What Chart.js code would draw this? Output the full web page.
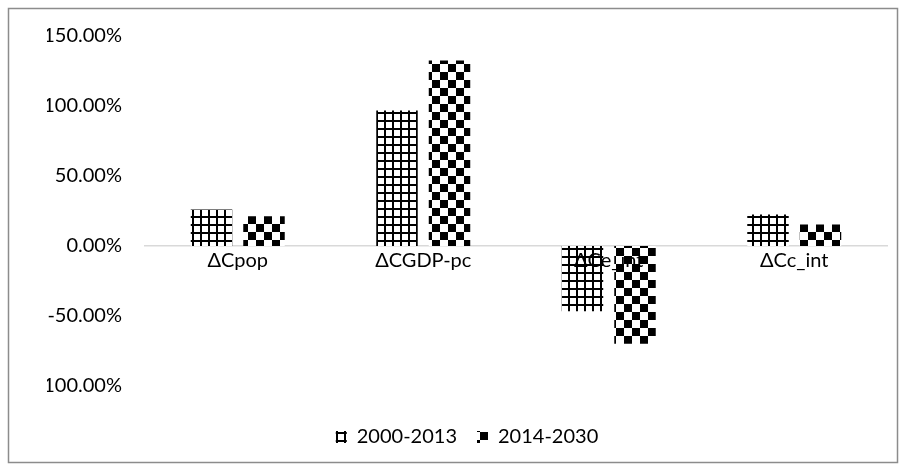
<!DOCTYPE html>
<html>
<head>
<meta charset="utf-8">
<script src="https://cdn.jsdelivr.net/npm/chart.js@4.4.1/dist/chart.umd.min.js"></script>
<style>
  html, body { margin: 0; padding: 0; background: #fff; }
  canvas { display: block; }
</style>
</head>
<body>
<canvas id="decompChart" width="906" height="471"></canvas>
<script>
"use strict";

// Contribution of each factor, in percent
const categories = ['\u0394Cpop', '\u0394CGDP-pc', '\u0394Ce_int', '\u0394Cc_int'];
const period1 = [26.1, 96.8, -46.6, 22.5];   // 2000-2013
const period2 = [21.3, 132.5, -69.8, 15.4];  // 2014-2030
const seriesNames = ['2000-2013', '2014-2030'];
const yTicks = [-100, -50, 0, 50, 100, 150];

const FONT = 'Lato, "Open Sans", "DejaVu Sans", sans-serif';

// Small grid hatching: 2px black lines every 8px
function makeGridPattern() {
  const c = document.createElement('canvas');
  c.width = 8; c.height = 8;
  const g = c.getContext('2d');
  g.fillStyle = '#fff';
  g.fillRect(0, 0, 8, 8);
  g.fillStyle = '#000';
  g.fillRect(0, 0, 2, 8);
  g.fillRect(0, 0, 8, 2);
  return g.createPattern(c, 'repeat');
}

// Checkerboard with 8px squares
function makeCheckerPattern() {
  const c = document.createElement('canvas');
  c.width = 16; c.height = 16;
  const g = c.getContext('2d');
  g.fillStyle = '#fff';
  g.fillRect(0, 0, 16, 16);
  g.fillStyle = '#000';
  g.fillRect(0, 0, 8, 8);
  g.fillRect(8, 8, 8, 8);
  return g.createPattern(c, 'repeat');
}

// White background and the outer frame
const frame = {
  id: 'frame',
  beforeDraw(chart) {
    const ctx = chart.ctx;
    ctx.save();
    ctx.fillStyle = '#fff';
    ctx.fillRect(0, 0, chart.width, chart.height);
    ctx.strokeStyle = '#8c8c8c';
    ctx.lineWidth = 1.5;
    ctx.strokeRect(8.5, 8.5, chart.width - 17, chart.height - 17);
    ctx.restore();
  }
};

const ctx = document.getElementById('decompChart').getContext('2d');

new Chart(ctx, {
  type: 'bar',
  data: {
    labels: categories,
    datasets: [
      {
        label: seriesNames[0],
        data: period1,
        backgroundColor: makeGridPattern(),
        borderWidth: 0
      },
      {
        label: seriesNames[1],
        data: period2,
        backgroundColor: makeCheckerPattern(),
        borderWidth: 0
      }
    ]
  },
  options: {
    responsive: false,
    animation: false,
    devicePixelRatio: 1,
    categoryPercentage: 0.566,
    barPercentage: 0.79,
    layout: {
      padding: { top: 36, left: 47, right: 19, bottom: 14 }
    },
    plugins: {
      tooltip: { enabled: false },
      legend: {
        position: 'bottom',
        title: {
          display: true,
          text: '',
          font: { size: 10 },
          padding: { top: 9, bottom: 0 }
        },
        labels: {
          boxWidth: 11,
          boxHeight: 12,
          padding: 20,
          color: '#000',
          font: { family: FONT, size: 20 }
        }
      }
    },
    scales: {
      x: {
        position: { y: 0 },
        grid: { display: false, drawTicks: false },
        border: { display: true, color: '#d9d9d9', width: 1.5 },
        ticks: {
          z: 1,
          color: '#000',
          padding: 3,
          font: { family: FONT, size: 20 }
        }
      },
      y: {
        min: -100,
        max: 150,
        afterBuildTicks(scale) {
          scale.ticks = yTicks.map(v => ({ value: v }));
        },
        afterFit(scale) {
          scale.width = 98;
        },
        grid: { display: false, drawTicks: false },
        border: { display: false },
        ticks: {
          color: '#000',
          padding: 23,
          font: { family: FONT, size: 20 },
          callback: v => v.toFixed(2) + '%'
        }
      }
    }
  },
  plugins: [frame]
});
</script>
</body>
</html>
